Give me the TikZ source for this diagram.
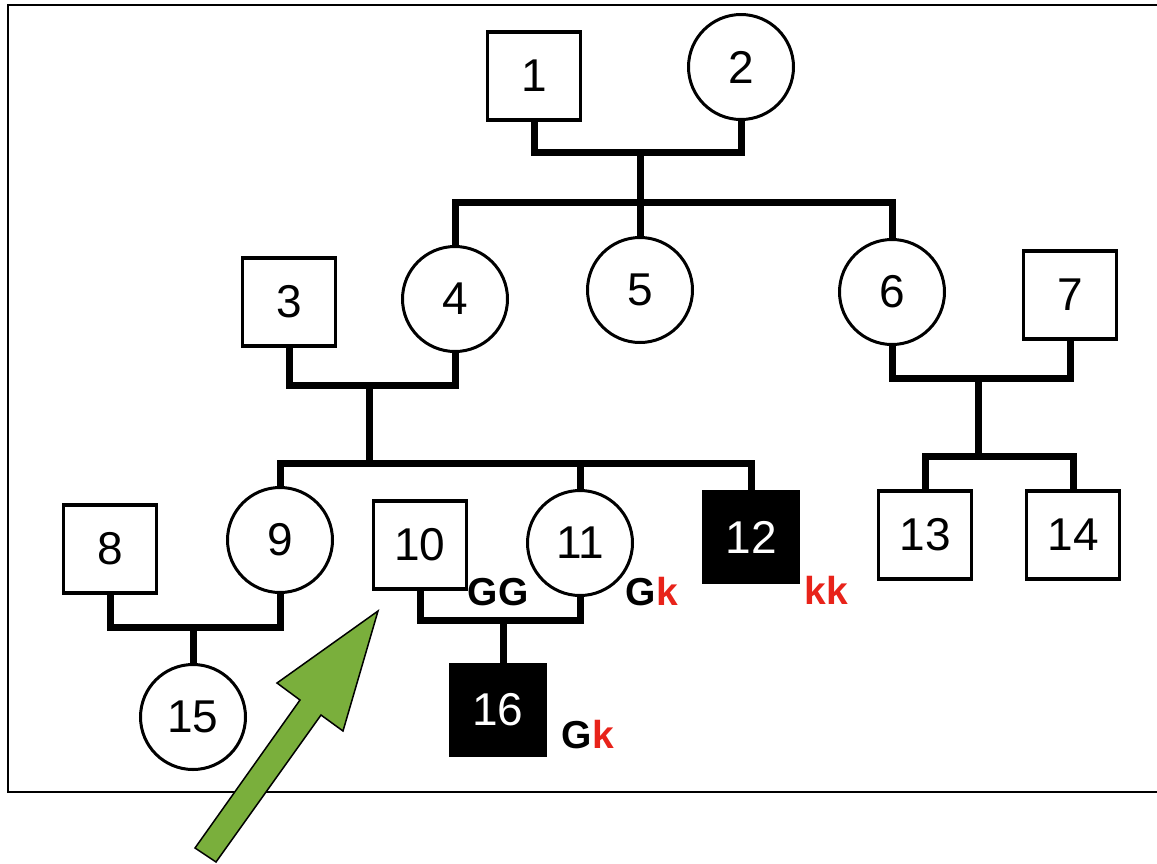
\documentclass[tikz,border=0pt]{standalone}
\usepackage{fontspec}
\setmainfont{Liberation Sans}
\usepackage{xcolor}
\usepackage{tikz}
\usetikzlibrary{positioning,calc}
\definecolor{gkred}{HTML}{E8231A}
\definecolor{arrgreen}{HTML}{7AAF3C}

\begin{document}
\begin{tikzpicture}[x=1pt,y=-1pt,
  male/.style={draw,line width=3.5pt,minimum width=93pt,minimum height=88pt,inner sep=0pt,font=\fontsize{46}{50}\selectfont},
  female/.style={draw,circle,line width=3pt,minimum size=105pt,inner sep=0pt,font=\fontsize{46}{50}\selectfont},
  sick/.style={male,fill=black,text=white,minimum width=95pt,minimum height=90pt},
  link/.style={line width=7pt},
  geno/.style={font=\fontsize{39}{41}\selectfont\bfseries}]
  \useasboundingbox (0,0) rectangle (1157,863);
  \draw[line width=2pt] (1157,5) -- (8,5) -- (8,792) -- (1157,792);
  % people
  \foreach \n/\x/\y in {1/534/76,3/289/302,7/1070/295,8/110/549,10/420/545,13/925/535,14/1073/535}{\node[male] (n\n) at (\x,\y) {\n};}
  \foreach \n/\x/\y in {2/741/67,4/455/299,5/640/290,6/892/292,9/280/540,11/580/543,15/193/717}{\node[female] (n\n) at (\x,\y) {\n};}
  \node[sick] (n12) at (751,537) {12};
  \node[sick] (n16) at (498,710) {16};
  % couples and sibships
  \coordinate (m12) at (640,152); \coordinate (s12) at (640,202);
  \coordinate (m34) at (369,385); \coordinate (s34) at (369,463);
  \coordinate (m67) at (978,378); \coordinate (s67) at (978,456);
  \coordinate (m89) at (193,627); \coordinate (m1011) at (503,620);
  \draw[link] (n1.south) |- (m12) -| (n2.south);
  \draw[link] (m12) -- (s12) -- (n5.north);
  \draw[link] (n4.north) |- (s12) -| (n6.north);
  \draw[link] (n3.south) |- (m34) -| (n4.south);
  \draw[link] (m34) -- (s34);
  \draw[link] (n9.north) |- (s34) -| (n12.north);
  \draw[link] (n11.north) -- (n11.north |- s34);
  \draw[link] (n6.south) |- (m67) -| (n7.south);
  \draw[link] (m67) -- (s67);
  \draw[link] (n13.north) |- (s67) -| (n14.north);
  \draw[link] (n8.south) |- (m89) -| (n9.south);
  \draw[link] (m89) -- (n15.north);
  \draw[link] (n10.south) |- (m1011) -| (n11.south);
  \draw[link] (m1011) -- (m1011 |- n16.north);
  % genotypes
  \node[geno] (g10) at (498,592) {GG};
  \node[geno] (g11) at (652,592) {G\textcolor{gkred}{k}};
  \node[geno,text=gkred] (g12) at (826,590) {kk};
  \node[geno] (g16) at (588,735) {G\textcolor{gkred}{k}};
  % pointer
  \fill[arrgreen,draw=black,line width=1.5pt] (378,611) -- (343,731) -- (321,715) -- (216,862) -- (195,848) -- (300,700) -- (277,683) -- cycle;
\end{tikzpicture}
\end{document}
